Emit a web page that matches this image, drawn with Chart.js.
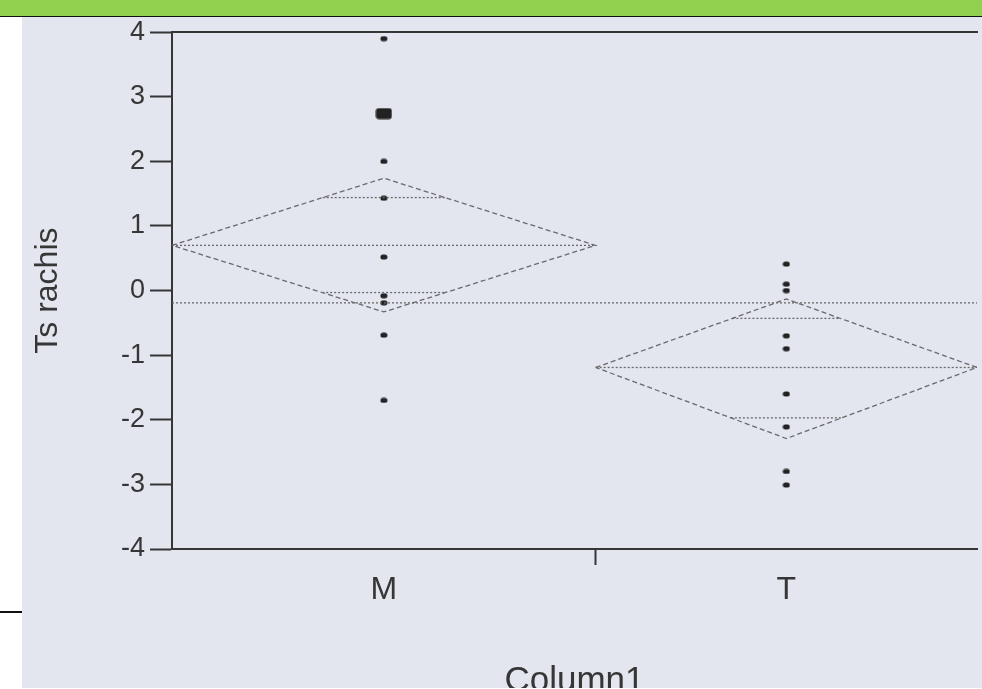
<!DOCTYPE html>
<html>
<head>
<meta charset="utf-8">
<script src="https://cdn.jsdelivr.net/npm/chart.js@4.4.1/dist/chart.umd.min.js"></script>
<style>
html, body { margin: 0; padding: 0; background: #fff; overflow: hidden; width: 982px; height: 689px; }
#bar { position: absolute; left: 0; top: 0; width: 982px; height: 16px; background: #92d050; border-bottom: 1.5px solid #111; }
#paper { position: absolute; left: 22px; top: 17px; width: 960px; height: 671px; background: #e3e5ef; overflow: hidden; }
#mark { position: absolute; left: 0; top: 611px; width: 22px; height: 2px; background: #111; }
canvas { position: absolute; left: 0; top: -6px; }
</style>
</head>
<body>
<div id="bar"></div>
<div id="paper"><canvas id="myChart" width="960" height="691"></canvas></div>
<div id="mark"></div>
<script>
//------------------------------Data-----------------

const groups = ['M', 'T'];
const groupN = [10, 9];

const tsM = [3.9, 2.74, 2.74, 2.0, 1.43, 0.52, -0.08, -0.19, -0.69, -1.7];
const tsT = [0.41, 0.1, 0.0, -0.7, -0.9, -1.6, -2.11, -2.8, -3.01];

const means = [0.70, -1.19];
const ciUpper = [1.74, -0.13];
const ciLower = [-0.33, -2.29];
const overlapUpper = [1.44, -0.43];
const overlapLower = [-0.03, -1.97];
const grandMean = -0.19;

const FONT = "'Liberation Sans', Arial, sans-serif";
const INK = '#363636';
const DASH = '#6a6a6a';

// group boundaries on the x scale (width ~ group size)
const edges = [0];
groupN.forEach((n, i) => edges.push(edges[i] + n));
const centers = groups.map((g, i) => (edges[i] + edges[i + 1]) / 2);
const xMax = edges[edges.length - 1];

function dotCanvas(w, h, r) {
    const c = document.createElement('canvas');
    c.width = w;
    c.height = h;
    const g = c.getContext('2d');
    g.fillStyle = '#222';
    g.beginPath();
    g.roundRect(0.5, 0.5, w - 1, h - 1, r);
    g.fill();
    return c;
}
const dot = dotCanvas(8, 6, 2.5);
const blob = dotCanvas(17, 12, 3);

function pointsFor(vals, i) {
    const seen = {};
    vals.forEach(v => { seen[v] = (seen[v] || 0) + 1; });
    return Object.keys(seen).map(v => ({ x: centers[i], y: +v, n: seen[v] }));
}

function line(data, dash, color) {
    return {
        data: data,
        showLine: true,
        borderColor: color,
        borderWidth: 1.3,
        borderDash: dash,
        pointRadius: 0,
        clip: false
    };
}

const datasets = [];

// grand mean across the whole plot
datasets.push(line([{ x: 0, y: grandMean }, { x: xMax, y: grandMean }], [2, 2], DASH));

groups.forEach((g, i) => {
    const l = edges[i], r = edges[i + 1], c = centers[i], hw = (r - l) / 2;
    const m = means[i];
    // means diamond
    datasets.push(line([
        { x: l, y: m }, { x: c, y: ciUpper[i] }, { x: r, y: m }, { x: c, y: ciLower[i] }, { x: l, y: m }
    ], [5, 3], DASH));
    // group mean
    datasets.push(line([{ x: l, y: m }, { x: r, y: m }], [2, 2], DASH));
    // overlap marks, reaching the diamond sides
    const fu = 1 - (overlapUpper[i] - m) / (ciUpper[i] - m);
    const fl = 1 - (m - overlapLower[i]) / (m - ciLower[i]);
    datasets.push(line([{ x: c - fu * hw, y: overlapUpper[i] }, { x: c + fu * hw, y: overlapUpper[i] }], [2, 2], DASH));
    datasets.push(line([{ x: c - fl * hw, y: overlapLower[i] }, { x: c + fl * hw, y: overlapLower[i] }], [2, 2], DASH));
});

[tsM, tsT].forEach((vals, i) => {
    datasets.push({
        data: pointsFor(vals, i),
        showLine: false,
        pointStyle: ctx => (ctx.raw && ctx.raw.n > 1 ? blob : dot),
        pointRadius: 4,
        clip: false
    });
});

const xTicks = centers.concat(edges.slice(1, -1)).sort((a, b) => a - b);

const config = {
    type: 'scatter',
    data: { datasets: datasets },
    options: {
        responsive: false,
        animation: false,
        events: [],
        layout: { padding: { top: 10, right: 0, left: 0, bottom: 0 } },
        plugins: { legend: { display: false }, tooltip: { enabled: false } },
        scales: {
            x: {
                type: 'linear',
                min: 0,
                max: xMax,
                afterBuildTicks: ax => { ax.ticks = xTicks.map(v => ({ value: v })); },
                ticks: {
                    callback: v => { const k = centers.indexOf(v); return k >= 0 ? groups[k] : ''; },
                    font: { family: FONT, size: 32 },
                    color: INK,
                    padding: 6,
                    autoSkip: false,
                    maxRotation: 0
                },
                grid: {
                    drawOnChartArea: false,
                    tickLength: 16,
                    tickWidth: 2,
                    color: ctx => (ctx.tick && edges.indexOf(ctx.tick.value) > 0 ? INK : 'rgba(0,0,0,0)')
                },
                border: { color: INK, width: 2 },
                title: {
                    display: true,
                    text: 'Column1',
                    font: { family: FONT, size: 35 },
                    color: INK,
                    padding: { top: 0, bottom: 0 }
                },
                afterFit: ax => { ax.height = 153; }
            },
            xTop: {
                type: 'linear',
                position: 'top',
                min: 0,
                max: xMax,
                ticks: { display: false },
                grid: { drawOnChartArea: false, drawTicks: false },
                border: { color: INK, width: 2 },
                afterFit: ax => { ax.height = 0; }
            },
            y: {
                min: -4,
                max: 4,
                ticks: { stepSize: 1, font: { family: FONT, size: 27 }, color: INK, padding: 5 },
                grid: { drawOnChartArea: false, tickLength: 22, tickWidth: 2, color: INK },
                border: { color: INK, width: 2 },
                title: {
                    display: true,
                    text: 'Ts rachis',
                    font: { family: FONT, size: 32 },
                    color: INK,
                    padding: { top: 7, bottom: 0 }
                },
                afterFit: ax => { ax.width = 150; }
            }
        }
    }
};

var chartTS = new Chart(document.getElementById('myChart'), config);
</script>
</body>
</html>
